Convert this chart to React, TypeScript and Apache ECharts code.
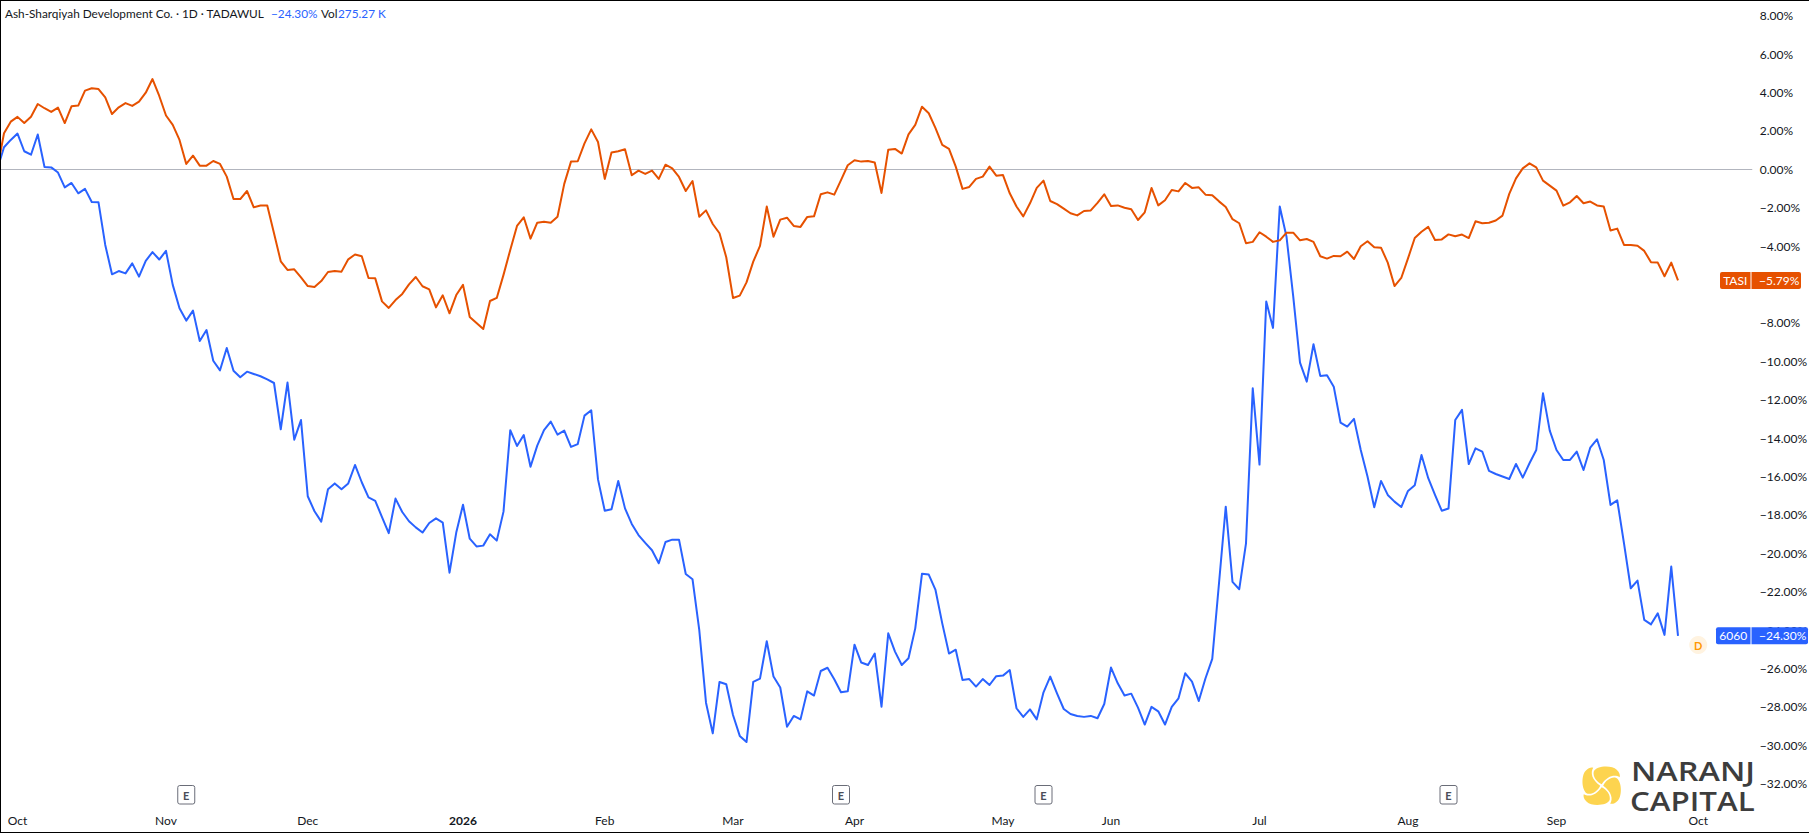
import React, { useEffect, useRef } from "react";
import * as echarts from "echarts";

const FONT = "Lato, 'Noto Sans', sans-serif";
const ORANGE = "#e65100";
const BLUE = "#2962ff";
const TEXT = "#131722";

const tasiValues = [
  0, 1.88, 2.48, 2.73, 2.41, 2.74, 3.40, 3.18, 2.99, 3.21,
  2.41, 3.28, 3.32, 4.10, 4.22, 4.18, 3.75, 2.88, 3.23, 3.45,
  3.30, 3.52, 3.99, 4.70, 3.82, 2.80, 2.31, 1.53, 0.28, 0.71,
  0.19, 0.19, 0.43, 0.28, -0.38, -1.55, -1.55, -1.13, -1.98, -1.89,
  -1.89, -3.33, -4.79, -5.24, -5.21, -5.63, -6.08, -6.13, -5.82, -5.35,
  -5.30, -5.33, -4.69, -4.44, -4.53, -5.66, -5.68, -6.88, -7.22, -6.81,
  -6.49, -5.99, -5.61, -6.09, -6.25, -7.19, -6.56, -7.50, -6.55, -6.02,
  -7.69, -8.00, -8.32, -6.86, -6.70, -5.50, -4.20, -2.95, -2.50, -3.61,
  -2.78, -2.73, -2.78, -2.47, -0.76, 0.40, 0.42, 1.35, 2.08, 1.42,
  -0.50, 0.87, 0.94, 1.04, -0.31, -0.07, -0.24, -0.07, -0.50, 0.24,
  0.05, -0.40, -1.13, -0.61, -2.47, -2.14, -2.85, -3.33, -4.58, -6.70,
  -6.58, -5.89, -4.81, -3.99, -1.94, -3.51, -2.62, -2.52, -2.95, -3.00,
  -2.48, -2.45, -1.30, -1.20, -1.32, -0.56, 0.21, 0.47, 0.40, 0.43,
  0.35, -1.23, 1.02, 1.06, 0.82, 1.82, 2.31, 3.26, 2.92, 2.14,
  1.27, 1.06, 0.14, -1.02, -0.92, -0.50, -0.38, 0.14, -0.33, -0.30,
  -1.25, -1.94, -2.45, -1.77, -0.97, -0.59, -1.65, -1.81, -2.05, -2.29,
  -2.40, -2.17, -2.14, -1.75, -1.30, -1.91, -1.88, -2.00, -2.08, -2.64,
  -2.24, -0.97, -1.88, -1.61, -1.08, -1.15, -0.71, -0.97, -0.94, -1.32,
  -1.35, -1.67, -1.96, -2.60, -2.81, -3.85, -3.78, -3.28, -3.51, -3.78,
  -3.70, -3.30, -3.30, -3.70, -3.63, -3.78, -4.53, -4.65, -4.51, -4.53,
  -4.29, -4.67, -4.01, -3.75, -4.06, -4.08, -4.86, -6.08, -5.66, -4.64,
  -3.58, -3.25, -3.00, -3.68, -3.65, -3.39, -3.49, -3.40, -3.58, -2.71,
  -2.81, -2.78, -2.67, -2.41, -1.28, -0.47, 0.05, 0.31, 0.10, -0.59,
  -0.85, -1.11, -1.89, -1.72, -1.39, -1.77, -1.68, -1.88, -1.94, -3.19,
  -3.09, -3.94, -3.94, -3.98, -4.25, -4.84, -4.86, -5.57, -4.86, -5.79,
];

const ashSharqiyahValues = [
  0, 1.15, 1.53, 1.86, 0.94, 0.76, 1.81, 0.12, 0.10, -0.17,
  -0.94, -0.71, -1.25, -1.02, -1.70, -1.72, -3.94, -5.47, -5.30, -5.42,
  -4.90, -5.59, -4.77, -4.31, -4.70, -4.25, -6.02, -7.24, -7.88, -7.36,
  -8.94, -8.37, -9.97, -10.47, -9.31, -10.49, -10.83, -10.54, -10.66, -10.78,
  -10.94, -11.13, -13.54, -11.11, -14.08, -13.06, -17.03, -17.81, -18.35, -16.66,
  -16.36, -16.66, -16.36, -15.40, -16.30, -17.09, -17.27, -18.11, -18.95, -17.15,
  -17.85, -18.33, -18.65, -18.92, -18.42, -18.18, -18.40, -21.01, -18.92, -17.47,
  -19.24, -19.64, -19.60, -19.01, -19.34, -17.83, -13.59, -14.41, -13.84, -15.49,
  -14.39, -13.58, -13.14, -13.82, -13.61, -14.46, -14.31, -12.83, -12.55, -16.15,
  -17.78, -17.71, -16.23, -17.66, -18.47, -19.05, -19.46, -19.84, -20.52, -19.41,
  -19.29, -19.29, -21.08, -21.35, -23.99, -27.78, -29.38, -26.70, -26.82, -28.42,
  -29.51, -29.83, -26.70, -26.53, -24.58, -26.42, -26.99, -29.03, -28.47, -28.65,
  -27.19, -27.41, -26.13, -25.96, -26.56, -27.24, -27.19, -24.76, -25.69, -25.82,
  -25.22, -27.99, -24.17, -25.12, -25.82, -25.47, -23.91, -21.06, -21.11, -21.91,
  -23.65, -25.22, -25.02, -26.60, -26.55, -26.94, -26.55, -26.86, -26.40, -26.37,
  -26.08, -28.07, -28.52, -28.13, -28.65, -27.24, -26.42, -27.29, -28.11, -28.37,
  -28.47, -28.52, -28.47, -28.59, -27.85, -25.95, -26.77, -27.41, -27.31, -28.04,
  -28.92, -28.00, -28.23, -28.92, -28.00, -27.55, -26.25, -26.68, -27.69, -26.51,
  -25.50, -21.56, -17.57, -21.49, -21.87, -19.48, -11.41, -15.38, -6.89, -8.26,
  -1.94, -3.51, -6.63, -10.07, -11.06, -9.11, -10.76, -10.73, -11.32, -13.19,
  -13.40, -13.00, -14.62, -16.00, -17.60, -16.23, -16.96, -17.31, -17.59, -16.75,
  -16.46, -14.88, -16.09, -16.96, -17.78, -17.67, -13.06, -12.53, -15.35, -14.53,
  -14.70, -15.71, -15.87, -16.00, -16.13, -15.35, -16.06, -15.31, -14.62, -11.67,
  -13.61, -14.62, -15.14, -15.14, -14.70, -15.66, -14.50, -14.06, -15.14, -17.48,
  -17.24, -19.48, -21.82, -21.42, -23.47, -23.70, -23.13, -24.25, -20.69, -24.30,
];

const monthTickIndexes = [3, 25, 46, 69, 90, 109, 127, 149, 165, 187, 209, 231, 252];
const monthTickLabels = ["Oct", "Nov", "Dec", "2026", "Feb", "Mar", "Apr", "May", "Jun", "Jul", "Aug", "Sep", "Oct"];
const earningsIndexes = [28, 125, 155, 215];
const dividendIndex = 252;
const SLOT_COUNT = 261;
const hiddenTickValues = [-6];

const categories = Array.from({ length: SLOT_COUNT }, (_, i) => {
  const k = monthTickIndexes.indexOf(i);
  return k >= 0 ? monthTickLabels[k] : "";
});

const pct = (v: number) =>
  (v < 0 ? "\u2212" : "") + Math.abs(v).toFixed(2) + "%";

const PETAL = "M0,-1.5 C-5,-4 -9,-9 -8,-14 C-6,-20 10,-21 15,-16 C18,-13 18.5,-11 18,-8.5 C13,-11.5 6,-10 0,-1.5 Z";
echarts.graphic.registerShape("naranjPetal", echarts.graphic.extendPath(PETAL, {}));

const priceTag = (
  name: string,
  value: number,
  y: number,
  color: string,
  left: number,
  right: number
) => {
  const divider = 1750.5;
  const h = 17;
  const font = { fontFamily: FONT, fontSize: 12, fill: "#fff" };
  return [
    {
      type: "rect",
      z: 50,
      shape: { x: left, y: y - h / 2, width: divider - left, height: h, r: [2, 0, 0, 2] },
      style: { fill: color },
    },
    {
      type: "rect",
      z: 50,
      shape: { x: divider + 1, y: y - h / 2, width: right - divider - 1, height: h, r: [0, 2, 2, 0] },
      style: { fill: color },
    },
    {
      type: "text",
      z: 51,
      x: (left + divider) / 2,
      y,
      style: { ...font, text: name, align: "center", verticalAlign: "middle" },
    },
    {
      type: "text",
      z: 51,
      x: 1759,
      y,
      style: { ...font, text: pct(value), align: "left", verticalAlign: "middle" },
    },
  ];
};

export default function App() {
  const ref = useRef<HTMLDivElement>(null);

  useEffect(() => {
    document.body.style.margin = "0";
    const chart = echarts.init(ref.current!, null, { renderer: "svg" });
    chart.setOption({
      animation: false,
      backgroundColor: "#ffffff",
      grid: {
        left: -2.75,
        top: 15.7,
        width: 1755,
        height: 768,
        containLabel: false,
        outerBoundsMode: "none",
      },
      xAxis: {
        type: "category",
        data: categories,
        boundaryGap: false,
        axisLine: { show: false },
        axisTick: { show: false },
        splitLine: { show: false },
        axisLabel: {
          interval: 0,
          margin: 31,
          fontFamily: FONT,
          fontSize: 12,
          color: TEXT,
          hideOverlap: false,
          showMinLabel: true,
          showMaxLabel: true,
          formatter: (v: string) => (v === "2026" ? "{b|2026}" : v),
          rich: { b: { fontWeight: "bold", fontFamily: FONT, fontSize: 12, color: TEXT } },
        },
      },
      yAxis: {
        type: "value",
        position: "right",
        min: -32,
        max: 8,
        interval: 2,
        axisLine: { show: false },
        axisTick: { show: false },
        splitLine: { show: false },
        axisLabel: {
          margin: 7.5,
          fontFamily: FONT,
          fontSize: 12,
          color: TEXT,
          formatter: (v: number) => (hiddenTickValues.includes(v) ? "" : pct(v)),
        },
      },
      series: [
        {
          name: "6060",
          type: "line",
          data: ashSharqiyahValues,
          showSymbol: false,
          smooth: false,
          z: 3,
          lineStyle: { color: BLUE, width: 2, join: "round" },
          markLine: {
            silent: true,
            symbol: "none",
            label: { show: false },
            lineStyle: { color: "#b2b5be", width: 1, type: "solid" },
            data: [{ yAxis: 0 }],
            z: 1,
          },
        },
        {
          name: "TASI",
          type: "line",
          data: tasiValues,
          showSymbol: false,
          smooth: false,
          z: 4,
          lineStyle: { color: ORANGE, width: 2, join: "round" },
        },
      ],
    });

    const px = (i: number, v: number) =>
      chart.convertToPixel({ gridIndex: 0 }, [i, v]) as number[];
    const lastTasi = tasiValues[tasiValues.length - 1];
    const lastAsh = ashSharqiyahValues[ashSharqiyahValues.length - 1];
    const tasiY = px(0, lastTasi)[1];
    const ashY = px(0, lastAsh)[1];

    const titleStyle = {
      fontFamily: FONT,
      fontSize: 11.8,
      verticalAlign: "middle" as const,
    };
    const logoStyle = {
      fontFamily: "'Open Sans'",
      fontWeight: 600,
      fontSize: 27,
      fill: "#3d3d3d",
      verticalAlign: "middle" as const,
    };
    const elements: any[] = [
      { type: "line", shape: { x1: 0.5, y1: 0, x2: 0.5, y2: 833 }, style: { stroke: "#000", lineWidth: 1 }, z: 60 },
      { type: "line", shape: { x1: 0, y1: 0.5, x2: 1809, y2: 0.5 }, style: { stroke: "#000", lineWidth: 1 }, z: 60 },
      { type: "line", shape: { x1: 0, y1: 832.5, x2: 1809, y2: 832.5 }, style: { stroke: "#000", lineWidth: 1 }, z: 60 },
      { type: "text", x: 5, y: 13, style: { ...titleStyle, text: "Ash-Sharqiyah Development Co. \u00b7 1D \u00b7 TADAWUL", fill: TEXT } },
      { type: "text", x: 271, y: 13, style: { ...titleStyle, text: "\u221224.30%", fill: BLUE } },
      { type: "text", x: 321, y: 13, style: { ...titleStyle, text: "Vol", fill: TEXT } },
      { type: "text", x: 338, y: 13, style: { ...titleStyle, text: "275.27 K", fill: BLUE } },
      ...priceTag("TASI", lastTasi, tasiY, ORANGE, 1720, 1801),
      ...priceTag("6060", lastAsh, ashY, BLUE, 1716, 1808),
      {
        type: "circle",
        z: 40,
        shape: { cx: px(dividendIndex, 0)[0], cy: 645, r: 9 },
        style: { fill: "#fff3e0" },
      },
      {
        type: "text",
        z: 41,
        x: px(dividendIndex, 0)[0],
        y: 645.5,
        style: { text: "D", fontFamily: FONT, fontSize: 11, fontWeight: "bold", fill: "#ff9800", align: "center", verticalAlign: "middle" },
      },
      ...[0, 1, 2, 3].map((k) => ({
        type: "naranjPetal",
        x: 1601.7,
        y: 785.7,
        rotation: (k * Math.PI) / 2,
        style: { fill: "#fdd44f" },
        z: 45,
      })),
      {
        type: "text",
        x: 1631,
        y: 770.5,
        scaleX: 1.2,
        z: 45,
        style: { ...logoStyle, text: "NARANJ" },
      },
      {
        type: "text",
        x: 1630,
        y: 800.5,
        scaleX: 1.16,
        z: 45,
        style: { ...logoStyle, text: "CAPITAL" },
      },
    ];
    earningsIndexes.forEach((i) => {
      const x = px(i, 0)[0];
      elements.push({
        type: "rect",
        z: 30,
        shape: { x: x - 8.5, y: 785.5, width: 17, height: 18.5, r: 2 },
        style: { fill: "#fff", stroke: "#6a6d78", lineWidth: 1 },
      });
      elements.push({
        type: "text",
        z: 31,
        x,
        y: 795,
        style: { text: "E", fontFamily: FONT, fontSize: 11, fontWeight: "bold", fill: "#4a4d58", align: "center", verticalAlign: "middle" },
      });
    });

    chart.setOption({ graphic: { elements } });
    return () => chart.dispose();
  }, []);

  return <div ref={ref} style={{ width: 1809, height: 833, background: "#fff" }} />;
}
